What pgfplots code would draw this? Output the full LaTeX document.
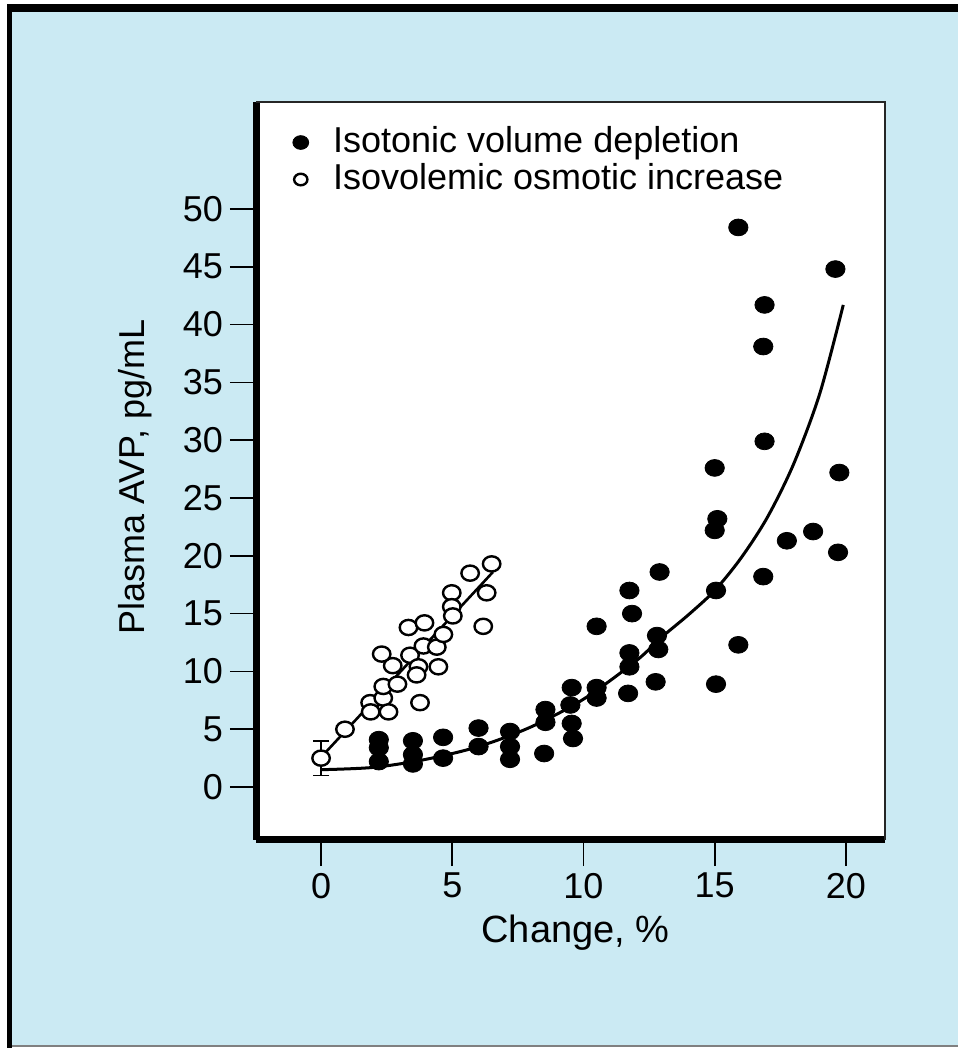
\documentclass[border=0pt]{standalone}
\usepackage{pgfplots}
\pgfplotsset{compat=1.18}
\usepackage{fontspec}
\setmainfont{Liberation Sans}
\definecolor{panelblue}{RGB}{203,234,243}
\newcommand\chartfont{\fontsize{18}{20}\selectfont}

\begin{document}
\begin{tikzpicture}
\useasboundingbox (0,0) rectangle (479pt,524pt);
% panel and frame
\fill[white] (0,0) rectangle (479pt,524pt);
\fill[panelblue] (6pt,1.5pt) rectangle (479pt,518pt);
\fill[black] (3.5pt,518pt) rectangle (479pt,522pt);
\fill[black] (3.5pt,0pt) rectangle (6pt,522pt);
\fill[gray] (6pt,0.5pt) rectangle (479pt,1.5pt);

\begin{axis}[
  at={(128pt,104pt)}, anchor=south west,
  scale only axis, width=314.5pt, height=369pt,
  xmin=-2.48, xmax=21.49, ymin=-4.58, ymax=59.25,
  clip=false,
  axis x line*=bottom, axis y line*=left,
  axis line style={line width=3.5pt, black},
  axis background/.style={fill=white},
  xtick={0,5,...,20}, ytick={0,5,...,50},
  tick align=outside, major tick length=13pt,
  tick style={line width=0.8pt, black},
  tick label style={font=\chartfont},
  /pgf/number format/assume math mode=true,
  every axis x label/.style={at={(axis description cs:0.5,0)}, anchor=base, yshift=-51.5pt, xshift=2.5pt, font=\fontsize{19}{21}\selectfont},
  every axis y label/.style={at={(axis description cs:0,0.5)}, anchor=center, rotate=90, yshift=60.5pt, xshift=-3pt, font=\chartfont},
  xlabel={Change, \%},
  ylabel={Plasma AVP, pg/mL},
  legend style={at={(0.0572,0.9726)}, anchor=north west, draw=none, fill=none,
    font=\chartfont, inner sep=0pt, row sep=0pt,
    cells={anchor=west, inner sep=1pt, text height=13pt, text depth=4pt}},
  legend image code/.code={\path (-4pt,0pt) (14pt,0pt); \draw[#1] plot coordinates {(0pt,-0.7pt)};},
]

% error bar (mean +- range) on the baseline point
\addplot[forget plot, black, line width=0.8pt] coordinates {(0,1.0) (0,4.0)};
\addplot[forget plot, black, only marks, mark=-, mark size=4.2pt,
  mark options={line width=0.9pt}] coordinates {(0,1.0) (0,4.0)};

% fitted lines
\addplot[forget plot, black, line width=1.3pt] coordinates {(0.05,2.7) (6.55,18.6)};
\addplot[forget plot, black, line width=1.5pt, smooth] coordinates {
  (0,1.5) (2,1.7) (4,2.4) (6,3.5) (8,5.2) (10,7.6) (12,10.9) (13,13.0)
  (14,14.9) (15,17.0) (16,19.8) (17,23.3) (18,27.9) (19,34.0) (19.9,41.7)};

% isotonic volume depletion
\addplot[only marks, mark=*, mark size=4.2pt,
  mark options={black, fill=black, xscale=1.15},
  legend image post style={/tikz/every mark/.append style={scale=0.82}}]
  coordinates {
  (2.2,4.1) (2.2,3.4) (2.2,2.2)
  (3.5,4.0) (3.5,2.8) (3.5,2.0)
  (4.65,4.3) (4.65,2.5)
  (6.0,5.1) (6.0,3.5)
  (7.2,4.8) (7.2,3.5) (7.2,2.4)
  (8.5,2.9) (8.55,6.7) (8.55,5.6)
  (9.55,8.6) (9.5,7.1) (9.55,5.5) (9.6,4.2)
  (10.5,8.6) (10.5,7.7) (10.5,13.9)
  (11.7,8.1) (11.75,10.4) (11.75,11.6) (11.85,15.0) (11.75,17.0)
  (12.75,9.1) (12.85,11.9) (12.8,13.1) (12.9,18.6)
  (15.05,8.9) (15.05,17.0) (15.0,22.2) (15.1,23.2) (15.0,27.6)
  (15.9,12.3) (15.9,48.4)
  (16.85,18.2) (16.9,29.9) (16.85,38.1) (16.9,41.7)
  (17.75,21.3) (18.75,22.1)
  (19.7,20.3) (19.75,27.2) (19.6,44.8)};
\addlegendentry{Isotonic volume depletion}

% isovolemic osmotic increase
\addplot[only marks, mark=*, mark size=3.8pt,
  mark options={draw=black, fill=white, line width=1.2pt, xscale=1.15},
  legend image post style={/tikz/every mark/.append style={scale=0.76}}]
  coordinates {
  (0,2.5) (0.91,5.0) (1.87,7.3) (1.89,6.5) (2.37,7.7) (2.37,8.7)
  (2.57,6.5) (2.91,8.9) (2.73,10.5) (2.31,11.5) (3.39,11.4) (3.33,13.8)
  (3.94,14.2) (3.71,10.4) (3.64,9.7) (3.90,12.2) (4.41,12.1) (4.47,10.4)
  (4.66,13.2) (3.77,7.3) (4.98,16.8) (4.98,15.6) (5.02,14.8) (5.68,18.5)
  (6.50,19.3) (6.31,16.8) (6.18,13.9)};
\addlegendentry{Isovolemic osmotic increase}

% thin top and right frame of the plot box
\draw[line width=1pt, black!85] (rel axis cs:0,1) -- (rel axis cs:1,1) -- (rel axis cs:1,0);
\end{axis}
\end{tikzpicture}
\end{document}
